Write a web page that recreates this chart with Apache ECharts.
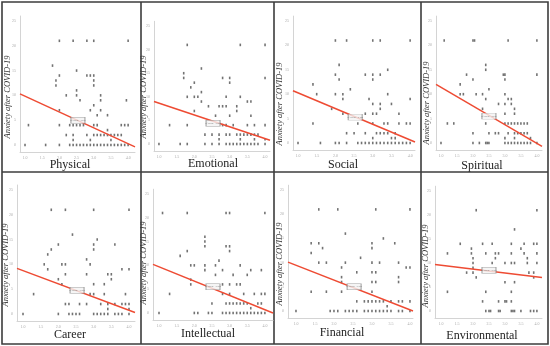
<!DOCTYPE html>
<html><head><meta charset="utf-8">
<script src="https://cdn.jsdelivr.net/npm/echarts@6/dist/echarts.min.js"></script>
<style>html,body{margin:0;padding:0;background:#fff}#c{width:550px;height:346px}</style>
</head><body><div id="c"></div>
<script>
// ---- DATA ----
const dimensions = ['Physical','Emotional','Social','Spiritual','Career','Intellectual','Financial','Environmental'];
const yTitle = 'Anxiety after COVID-19';
const xTickValues = [1.0,1.5,2.0,2.5,3.0,3.5,4.0];
const yTickValues = [0,5,10,15,20,25];

const physical = [[1.0,0],[1.1,4],[1.6,0],[1.8,16],[1.9,13],[1.9,12],[2.0,21],[2.0,14],[2.0,7],[2.0,4],[2.0,0],[2.2,10],[2.2,2],[2.3,4],[2.3,0],[2.4,21],[2.4,4],[2.4,2],[2.4,1],[2.4,0],[2.5,15],[2.5,11],[2.5,10],[2.5,4],[2.5,0],[2.6,9],[2.6,4],[2.6,0],[2.7,4],[2.7,0],[2.8,21],[2.8,14],[2.8,2],[2.8,0],[2.9,14],[2.9,7],[2.9,1],[2.9,0],[3.0,21],[3.0,14],[3.0,13],[3.0,12],[3.0,8],[3.0,4],[3.0,2],[3.0,0],[3.1,6],[3.1,4],[3.1,2],[3.1,0],[3.2,10],[3.2,9],[3.2,7],[3.2,2],[3.2,0],[3.3,2],[3.3,0],[3.4,6],[3.4,3],[3.4,2],[3.4,0],[3.5,2],[3.5,1],[3.5,0],[3.6,2],[3.6,0],[3.7,2],[3.7,0],[3.8,4],[3.8,2],[3.8,0],[3.9,4],[3.9,0],[3.95,9],[4.0,21],[4.0,4],[4.0,0]];
const emotional = [[1.0,0],[1.3,4],[1.6,0],[1.7,15],[1.7,14],[1.8,21],[1.8,10],[1.8,4],[1.8,0],[1.9,12],[2.0,13],[2.0,10],[2.0,7],[2.1,10],[2.2,16],[2.2,11],[2.2,9],[2.3,2],[2.3,0],[2.4,8],[2.5,2],[2.5,0],[2.6,6],[2.7,8],[2.7,2],[2.7,1],[2.7,0],[2.8,14],[2.8,8],[2.8,4],[2.9,10],[2.9,8],[2.9,4],[2.9,2],[2.9,0],[3.0,14],[3.0,13],[3.0,6],[3.0,2],[3.0,0],[3.1,4],[3.1,0],[3.2,8],[3.2,7],[3.2,2],[3.2,0],[3.3,21],[3.3,10],[3.3,2],[3.3,1],[3.3,0],[3.4,2],[3.4,0],[3.5,9],[3.5,4],[3.5,2],[3.5,0],[3.6,9],[3.6,6],[3.6,2],[3.6,0],[3.7,4],[3.7,2],[3.7,1],[3.7,0],[3.8,2],[3.8,0],[4.0,21],[4.0,14],[4.0,4],[4.0,1],[4.0,0]];
const social = [[1.0,0],[1.4,12],[1.4,4],[1.5,10],[1.6,0],[1.9,7],[2.0,21],[2.0,14],[2.0,10],[2.0,0],[2.1,16],[2.1,13],[2.1,0],[2.2,10],[2.2,9],[2.2,6],[2.3,21],[2.3,2],[2.3,0],[2.4,11],[2.5,2],[2.6,4],[2.6,0],[2.7,0],[2.8,14],[2.8,6],[2.8,2],[2.8,0],[2.9,9],[2.9,0],[3.0,21],[3.0,14],[3.0,13],[3.0,8],[3.0,6],[3.0,4],[3.0,1],[3.0,0],[3.1,6],[3.1,2],[3.1,0],[3.2,21],[3.2,14],[3.2,8],[3.2,7],[3.2,2],[3.2,0],[3.3,4],[3.3,2],[3.3,0],[3.4,15],[3.4,10],[3.4,4],[3.4,2],[3.4,0],[3.5,8],[3.5,1],[3.5,0],[3.6,2],[3.6,1],[3.6,0],[3.7,6],[3.7,4],[3.7,0],[3.8,0],[3.9,4],[3.9,0],[4.0,21],[4.0,9],[4.0,4],[4.0,0]];
const spiritual = [[1.0,0],[1.1,21],[1.2,4],[1.4,4],[1.6,12],[1.6,10],[1.7,10],[1.8,14],[2.0,21],[2.05,21],[2.0,13],[2.0,2],[2.0,0],[2.1,10],[2.2,0],[2.3,10],[2.3,7],[2.4,16],[2.4,15],[2.4,9],[2.4,4],[2.4,0],[2.45,0],[2.5,0],[2.5,11],[2.5,2],[2.7,2],[2.8,2],[2.8,8],[2.95,14],[3.0,14],[3.0,13],[3.0,10],[3.0,8],[3.0,6],[3.0,4],[3.0,1],[3.0,0],[3.1,21],[3.1,9],[3.2,9],[3.1,4],[3.1,2],[3.1,0],[3.2,8],[3.2,4],[3.2,0],[3.3,7],[3.3,6],[3.3,4],[3.3,2],[3.3,1],[3.3,0],[3.4,4],[3.4,2],[3.4,0],[3.5,4],[3.5,2],[3.5,0],[3.6,4],[3.6,2],[3.6,0],[3.7,4],[3.7,2],[3.7,0],[3.8,1],[3.8,0],[4.0,21],[4.0,14],[4.0,0]];
const career = [[1.0,0],[1.3,4],[1.6,10],[1.7,9],[1.7,12],[1.8,13],[1.8,21],[2.0,14],[2.0,7],[2.0,0],[2.1,10],[2.2,10],[2.1,6],[2.2,21],[2.2,8],[2.2,2],[2.3,2],[2.3,0],[2.4,0],[2.5,0],[2.6,0],[2.4,16],[2.6,2],[2.8,11],[2.8,8],[2.8,2],[2.9,10],[2.9,4],[3.0,21],[3.0,14],[3.0,13],[3.0,6],[3.0,4],[3.0,0],[3.1,15],[3.1,0],[3.2,2],[3.2,0],[3.3,6],[3.3,4],[3.3,0],[3.4,8],[3.5,8],[3.4,2],[3.4,1],[3.4,0],[3.5,7],[3.6,14],[3.6,2],[3.6,0],[3.7,0],[3.8,0],[3.8,2],[3.8,9],[3.9,4],[3.9,2],[4.0,21],[4.0,9],[4.0,2],[4.0,1],[4.0,0]];
const intellectual = [[1.0,0],[1.1,21],[1.3,4],[1.6,12],[1.8,21],[1.8,13],[1.9,10],[2.0,10],[1.9,7],[1.9,6],[2.0,0],[2.1,0],[2.3,16],[2.3,15],[2.3,14],[2.3,10],[2.3,9],[2.4,0],[2.5,0],[2.5,2],[2.6,10],[2.6,8],[2.7,11],[2.8,9],[2.8,6],[2.8,4],[2.8,0],[2.9,21],[3.0,21],[2.9,14],[3.0,14],[3.0,13],[2.9,2],[2.9,0],[3.0,6],[3.0,4],[3.0,2],[3.0,0],[3.1,8],[3.1,2],[3.1,0],[3.2,6],[3.2,2],[3.2,0],[3.3,10],[3.3,6],[3.3,2],[3.3,0],[3.4,4],[3.4,2],[3.4,0],[3.5,8],[3.5,2],[3.5,0],[3.6,9],[3.6,1],[3.6,0],[3.7,4],[3.7,0],[3.8,2],[3.8,0],[3.9,9],[3.9,4],[3.9,2],[3.9,0],[4.0,21],[4.0,4],[4.0,0]];
const financial = [[1.0,0],[1.4,14],[1.4,12],[1.4,4],[1.6,21],[1.6,14],[1.6,10],[1.7,13],[1.8,10],[1.8,4],[1.9,0],[2.0,0],[2.1,0],[2.1,21],[2.2,9],[2.2,7],[2.2,6],[2.2,4],[2.3,16],[2.3,10],[2.3,0],[2.4,0],[2.5,0],[2.6,0],[2.6,2],[2.6,8],[2.7,11],[2.8,2],[2.8,0],[2.9,2],[2.9,0],[3.0,14],[3.0,13],[3.0,10],[3.0,8],[3.0,6],[3.0,4],[3.0,2],[3.0,0],[3.1,21],[3.1,8],[3.1,6],[3.1,2],[3.1,0],[3.2,10],[3.2,2],[3.2,0],[3.3,15],[3.3,2],[3.3,0],[3.4,1],[3.4,0],[3.5,2],[3.5,0],[3.6,14],[3.7,10],[3.7,7],[3.7,6],[3.7,2],[3.7,0],[3.8,2],[3.8,0],[3.9,9],[4.0,9],[4.0,21],[4.0,2],[4.0,0]];
const environmental = [[1.2,4],[1.2,12],[1.6,14],[1.8,8],[1.95,13],[1.95,12],[2.0,11],[2.0,10],[2.0,9],[2.0,8],[2.1,21],[2.1,7],[2.3,14],[2.3,2],[2.4,12],[2.4,4],[2.4,0],[2.5,0],[2.55,0],[2.6,14],[2.6,10],[2.7,11],[2.7,12],[2.8,12],[2.8,2],[2.8,0],[2.85,0],[3.0,10],[3.0,6],[3.0,2],[3.05,2],[3.2,12],[3.2,14],[3.2,10],[3.2,4],[3.2,2],[3.2,0],[3.25,0],[3.3,17],[3.3,10],[3.3,6],[3.3,0],[3.5,13],[3.5,0],[3.6,14],[3.6,12],[3.7,11],[3.7,10],[3.75,8],[3.8,0],[3.9,0],[3.9,14],[3.9,8],[3.9,7],[4.0,21],[4.0,14],[4.0,12],[4.0,10],[4.0,0]];

// fitted-line end points
const regPhysical = [[0.854,10.3],[4.2,-0.4]];
const regEmotional = [[0.86,9.0],[4.14,0.8]];
const regSocial = [[0.866,10.7],[4.13,0.2]];
const regSpiritual = [[0.844,12.0],[4.16,-0.7]];
const regCareer = [[0.83,9.2],[4.17,0.3]];
const regIntellectual = [[0.83,10.2],[4.23,0]];
const regFinancial = [[0.79,10.1],[4.08,0]];
const regEnvironmental = [[0.81,9.7],[4.16,7.0]];
// R² box locations
const boxPos = [[2.54,5.0],[2.53,4.4],[2.53,5.3],[2.5,5.5],[2.53,4.8],[2.53,5.5],[2.53,5.0],[2.5,8.5]];
const boxText = ['R² Linear = 0.109','R² Linear = 0.087','R² Linear = 0.112','R² Linear = 0.139','R² Linear = 0.087','R² Linear = 0.098','R² Linear = 0.101','R² Linear = 0.007'];

const seriesData = [physical,emotional,social,spiritual,career,intellectual,financial,environmental];
const regData = [regPhysical,regEmotional,regSocial,regSpiritual,regCareer,regIntellectual,regFinancial,regEnvironmental];

// ---- LAYOUT ----
const layout = [
  {l:20, r:135, t:16,   h:136.4, yt:[8,97],   xt:[70,165]},
  {l:154,r:270, t:21.3, h:129.8, yt:[144,97], xt:[213,164]},
  {l:293,r:415, t:16.1, h:134.2, yt:[280,104],xt:[343,165]},
  {l:436,r:542, t:16.1, h:134.2, yt:[427,103],xt:[482,166]},
  {l:17, r:135, t:185,  h:136.4, yt:[6,265],  xt:[70,335]},
  {l:153,r:273, t:189.2,h:130.9, yt:[144,263],xt:[208,334]},
  {l:288,r:413, t:185.2,h:133.1, yt:[280,264],xt:[342,333]},
  {l:435,r:542, t:186.2,h:132,   yt:[426,266],xt:[482,336]}
];

const grid=[], xAxis=[], yAxis=[], series=[], graphic=[];
layout.forEach((p,i)=>{
  grid.push({left:p.l, top:p.t, width:p.r-p.l, height:p.h});
  const reg = regData[i];
  xAxis.push({type:'value', gridIndex:i, min:reg[0][0], max:reg[1][0],
    axisLine:{show:true,onZero:false,lineStyle:{color:'#d4d4d4',width:1}},
    axisTick:{show:false}, splitLine:{show:false},
    axisLabel:{show:true,customValues:xTickValues,formatter:v=>v.toFixed(1),fontSize:4,color:'#aaa',margin:4,fontFamily:'Liberation Serif'}});
  yAxis.push({type:'value', gridIndex:i, min:-1.5, max:26,
    axisLine:{show:true,onZero:false,lineStyle:{color:'#d4d4d4',width:1}},
    axisTick:{show:false}, splitLine:{show:false},
    axisLabel:{show:true,customValues:yTickValues,fontSize:4,color:'#aaa',margin:4,fontFamily:'Liberation Serif'}});
  series.push({type:'scatter', xAxisIndex:i, yAxisIndex:i, data:seriesData[i],
    symbol:'rect', symbolSize:[1.6,2.6], itemStyle:{color:'#505050'}, silent:true});
  series.push({type:'line', xAxisIndex:i, yAxisIndex:i, data:reg, symbol:'none',
    lineStyle:{color:'#ee4b33', width:1.5}, clip:false, silent:true, z:3});
  series.push({type:'scatter', xAxisIndex:i, yAxisIndex:i, data:[boxPos[i]],
    symbol:'rect', symbolSize:[14,6], z:4,
    itemStyle:{color:'#f2f2f2', borderColor:'#8a8a8a', borderWidth:0.7},
    label:{show:true, position:'inside', formatter:boxText[i], fontSize:2, color:'#666'}, silent:true});
  graphic.push({type:'text', x:p.yt[0], y:p.yt[1], rotation:Math.PI/2,
    style:{text:yTitle, font:'italic 8.5px "Liberation Serif"', fill:'#333', align:'center', verticalAlign:'middle'}});
  graphic.push({type:'text', x:p.xt[0], y:p.xt[1],
    style:{text:dimensions[i], font:'12px "Liberation Serif"', fill:'#222', align:'center', verticalAlign:'middle'}});
});
// panel frames
const bc='#3c3c3c';
graphic.push({type:'rect', shape:{x:2,y:2,width:546,height:342}, style:{fill:null,stroke:bc,lineWidth:1.6}});
[141,274,421].forEach(x=>graphic.push({type:'line', shape:{x1:x,y1:2,x2:x,y2:344}, style:{stroke:bc,lineWidth:1.6}}));
graphic.push({type:'line', shape:{x1:2,y1:172,x2:548,y2:172}, style:{stroke:bc,lineWidth:1.6}});

const chart = echarts.init(document.getElementById('c'), null, {renderer:'canvas'});
chart.setOption({animation:false, backgroundColor:'#fff', grid, xAxis, yAxis, series, graphic});
</script></body></html>
